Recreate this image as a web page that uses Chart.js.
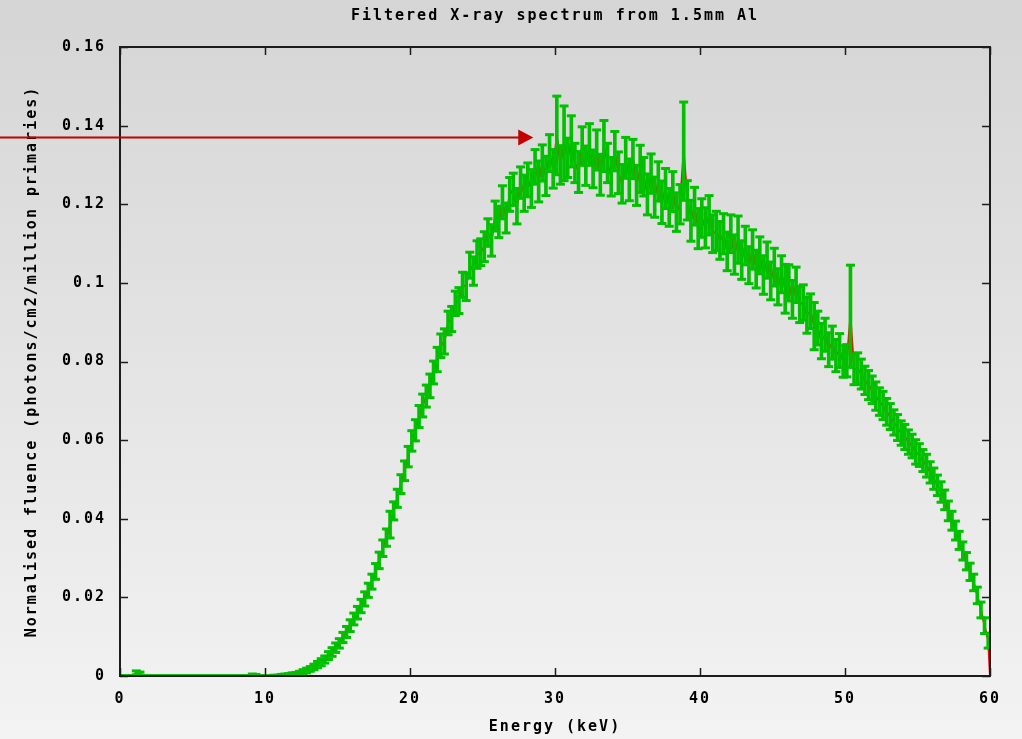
<!DOCTYPE html>
<html><head><meta charset="utf-8">
<script src="https://cdn.jsdelivr.net/npm/chart.js@4.4.1/dist/chart.umd.min.js"></script>
<style>html,body{margin:0;padding:0;background:#e4e4e4;overflow:hidden}canvas{display:block}</style>
</head><body>
<canvas id="c" width="1022" height="739"></canvas>
<script>
const titleText = 'Filtered X-ray spectrum from 1.5mm Al';
const xTitle = 'Energy (keV)';
const yTitle = 'Normalised fluence (photons/cm2/million primaries)';
const xTickLabels = ['0','10','20','30','40','50','60'];
const yTickLabels = ['0','0.02','0.04','0.06','0.08','0.1','0.12','0.14','0.16'];

// energy bins (keV): centre of first bin and bin width
const binStart = 0.125, binWidth = 0.25;

// normalised fluence per bin (4 bins per keV)
const fluence = [
 0,0,0,0,
 0.0008,0.0006,0,0,
 0,0,0,0,
 0,0,0,0,
 0,0,0,0,
 0,0,0,0,
 0,0,0,0,
 0,0,0,0,
 0,0,0,0,
 0.0003,0.0002,0,0,
 0,0,0.0001,0.0001,
 0.0002,0.0003,0.0004,0.0005,
 0.0006,0.0008,0.0011,0.0014,
 0.0018,0.0023,0.0029,0.0035,
 0.0042,0.0052,0.0061,0.0072,
 0.0083,0.0098,0.0112,0.0128,
 0.0145,0.0161,0.0178,0.0196,
 0.0218,0.0240,0.0266,0.0294,
 0.0325,0.0352,0.0385,0.0420,
 0.0452,0.0488,0.0522,0.0558,
 0.0598,0.0625,0.0660,0.0688,
 0.0712,0.0738,0.0772,0.0805,
 0.0840,0.0851,0.0898,0.0908,
 0.0948,0.0955,0.0995,0.0990,
 0.1045,0.1030,0.1072,0.1078,
 0.1092,0.1128,0.1108,0.1170,
 0.1155,0.1205,0.1165,0.1225,
 0.1238,0.1195,0.1255,0.1228,
 0.1262,0.1240,0.1295,0.1258,
 0.1305,0.1272,0.1330,0.1290,
 0.1375,0.1300,0.1355,0.1318,
 0.1360,0.1305,0.1282,0.1348,
 0.1298,0.1352,0.1290,0.1338,
 0.1275,0.1348,0.1305,0.1270,
 0.1335,0.1280,0.1252,0.1318,
 0.1262,0.1315,0.1248,0.1290,
 0.1270,0.1225,0.1278,0.1218,
 0.1258,0.1205,0.1240,0.1192,
 0.1232,0.1180,0.1200,0.1335,
 0.1210,0.1158,0.1195,0.1138,
 0.1165,0.1140,0.1172,0.1125,
 0.1132,0.1108,0.1125,0.1080,
 0.1125,0.1072,0.1110,0.1058,
 0.1095,0.1045,0.1085,0.1035,
 0.1070,0.1020,0.1058,0.1005,
 0.1040,0.0990,0.1022,0.0985,
 0.1000,0.0958,0.0995,0.0945,
 0.0950,0.0918,0.0928,0.0890,
 0.0885,0.0852,0.0868,0.0830,
 0.0848,0.0815,0.0828,0.0800,
 0.0802,0.0915,0.0780,0.0782,
 0.0768,0.0752,0.0740,0.0728,
 0.0712,0.0698,0.0688,0.0672,
 0.0660,0.0645,0.0632,0.0618,
 0.0608,0.0595,0.0585,0.0570,
 0.0562,0.0548,0.0535,0.0518,
 0.0502,0.0485,0.0468,0.0448,
 0.0420,0.0395,0.0370,0.0345,
 0.0318,0.0292,0.0265,0.0238,
 0.0205,0.0168,0.0128,0.0090
];

// half-height of each error bar
const fluenceErr = [
 0,0,0,0,
 0.0005,0.0004,0,0,
 0,0,0,0,
 0,0,0,0,
 0,0,0,0,
 0,0,0,0,
 0,0,0,0,
 0,0,0,0,
 0,0,0,0,
 0.0002,0.0002,0,0,
 0,0,0.0001,0.0001,
 0.0002,0.0002,0.0002,0.0003,
 0.0003,0.0004,0.0005,0.0006,
 0.0006,0.0007,0.0008,0.0009,
 0.0009,0.0010,0.0011,0.0012,
 0.0012,0.0013,0.0014,0.0015,
 0.0015,0.0016,0.0017,0.0018,
 0.0018,0.0019,0.0020,0.0021,
 0.0021,0.0022,0.0034,0.0023,
 0.0023,0.0024,0.0025,0.0026,
 0.0026,0.0027,0.0028,0.0029,
 0.0028,0.0030,0.0029,0.0031,
 0.0030,0.0032,0.0030,0.0032,
 0.0031,0.0033,0.0032,0.0035,
 0.0033,0.0036,0.0035,0.0034,
 0.0038,0.0035,0.0040,0.0038,
 0.0040,0.0042,0.0038,0.0043,
 0.0041,0.0045,0.0040,0.0046,
 0.0043,0.0048,0.0044,0.0052,
 0.0046,0.0050,0.0047,0.0049,
 0.0100,0.0049,0.0095,0.0050,
 0.0065,0.0050,0.0052,0.0049,
 0.0050,0.0053,0.0048,0.0051,
 0.0052,0.0065,0.0050,0.0049,
 0.0050,0.0053,0.0049,0.0052,
 0.0053,0.0050,0.0051,0.0060,
 0.0049,0.0052,0.0050,0.0051,
 0.0050,0.0054,0.0051,0.0048,
 0.0051,0.0049,0.0050,0.0125,
 0.0050,0.0052,0.0048,0.0051,
 0.0049,0.0051,0.0050,0.0048,
 0.0050,0.0048,0.0051,0.0049,
 0.0048,0.0050,0.0060,0.0049,
 0.0049,0.0047,0.0050,0.0048,
 0.0047,0.0049,0.0046,0.0048,
 0.0048,0.0046,0.0047,0.0062,
 0.0046,0.0048,0.0045,0.0046,
 0.0045,0.0046,0.0044,0.0060,
 0.0043,0.0045,0.0042,0.0043,
 0.0042,0.0041,0.0043,0.0040,
 0.0041,0.0130,0.0039,0.0040,
 0.0038,0.0036,0.0037,0.0035,
 0.0036,0.0035,0.0036,0.0034,
 0.0033,0.0032,0.0033,0.0031,
 0.0032,0.0031,0.0030,0.0031,
 0.0029,0.0028,0.0029,0.0027,
 0.0027,0.0026,0.0026,0.0025,
 0.0025,0.0024,0.0024,0.0023,
 0.0023,0.0022,0.0022,0.0021,
 0.0021,0.0020,0.0020,0.0019
];

const endPoint = {x: 60, y: 0};
const arrowY = 0.137, arrowFromX = -8.3, arrowToX = 28.5;

const FONT = "'DejaVu Sans Mono', 'Liberation Mono', monospace";
const font = {family: FONT, size: 15, weight: 'bold', lineHeight: 1.2};

const energies = fluence.map((v, i) => binStart + i * binWidth);
const linePts = fluence.map((v, i) => ({x: energies[i], y: v})).concat([endPoint]);
const barPts = fluence.map((v, i) => ({x: energies[i], y: [v - fluenceErr[i], v + fluenceErr[i]]}));
const capPts = [];
fluence.forEach((v, i) => {
  capPts.push({x: energies[i], y: v - fluenceErr[i]});
  capPts.push({x: energies[i], y: v + fluenceErr[i]});
});

const spacingPlugin = {
  id: 'spacing',
  beforeLayout(chart) { chart.ctx.letterSpacing = '2px'; },
  beforeDraw(chart) { chart.ctx.letterSpacing = '2px'; }
};

const bgPlugin = {
  id: 'bg',
  beforeDraw(chart) {
    const c = chart.ctx;
    c.save();
    const g = c.createLinearGradient(0, 0, 0, chart.height);
    g.addColorStop(0, '#d5d5d5');
    g.addColorStop(1, '#f3f3f3');
    c.fillStyle = g;
    c.fillRect(0, 0, chart.width, chart.height);
    c.restore();
  }
};

const framePlugin = {
  id: 'frame',
  afterDatasetsDraw(chart) {
    const c = chart.ctx, a = chart.chartArea;
    const xs = chart.scales.x, ys = chart.scales.y;
    c.save();
    c.strokeStyle = '#1c1c1c';
    c.lineWidth = 2;
    c.strokeRect(a.left, a.top, a.right - a.left, a.bottom - a.top);
    c.lineWidth = 1.5;
    const tl = 8;
    c.beginPath();
    xs.ticks.forEach(t => {
      const px = Math.round(xs.getPixelForValue(t.value)) + 0.5;
      c.moveTo(px, a.bottom); c.lineTo(px, a.bottom - tl);
      c.moveTo(px, a.top); c.lineTo(px, a.top + tl);
    });
    ys.ticks.forEach(t => {
      const py = Math.round(ys.getPixelForValue(t.value)) + 0.5;
      c.moveTo(a.left, py); c.lineTo(a.left + tl, py);
      c.moveTo(a.right, py); c.lineTo(a.right - tl, py);
    });
    c.stroke();
    // arrow
    const y = ys.getPixelForValue(arrowY);
    const x0 = xs.getPixelForValue(arrowFromX);
    const x1 = xs.getPixelForValue(arrowToX);
    c.strokeStyle = '#c40000';
    c.fillStyle = '#c40000';
    c.lineWidth = 2;
    c.beginPath();
    c.moveTo(x0, y); c.lineTo(x1 - 14, y);
    c.stroke();
    c.beginPath();
    c.moveTo(x1, y); c.lineTo(x1 - 15, y - 8); c.lineTo(x1 - 15, y + 8); c.closePath();
    c.fill();
    c.restore();
  }
};

new Chart(document.getElementById('c').getContext('2d'), {
  type: 'scatter',
  data: {
    datasets: [
      {type: 'line', data: linePts, borderColor: '#ff0000', borderWidth: 2, pointRadius: 0,
       showLine: true, fill: false, tension: 0, order: 3},
      {type: 'bar', data: barPts, backgroundColor: '#00c000', borderWidth: 0, barThickness: 3,
       grouped: false, order: 2},
      {type: 'scatter', data: capPts, pointStyle: 'line', pointRadius: 4.5, pointHoverRadius: 4.5,
       borderColor: '#00c000', borderWidth: 3, order: 1}
    ]
  },
  options: {
    responsive: false, animation: false, devicePixelRatio: 1,
    events: [],
    layout: {padding: {left: 0, right: 32, top: 0, bottom: 0}},
    plugins: {
      legend: {display: false}, tooltip: {enabled: false},
      title: {display: true, fullSize: false, text: titleText, color: '#000', font: font, padding: {top: 7, bottom: 22}}
    },
    scales: {
      x: {
        type: 'linear', min: 0, max: 60, offset: false,
        grid: {display: false}, border: {display: false},
        ticks: {stepSize: 10, color: '#000', font: font, padding: 6, maxRotation: 0,
                callback: v => xTickLabels[Math.round(v / 10)]},
        title: {display: true, text: xTitle, color: '#000', font: font, padding: {top: 3, bottom: 3}},
        afterFit: s => { s.height = 63; }
      },
      y: {
        type: 'linear', min: 0, max: 0.16,
        grid: {display: false}, border: {display: false},
        ticks: {stepSize: 0.02, color: '#000', font: font, padding: 6,
                callback: v => yTickLabels[Math.round(v / 0.02)]},
        title: {display: true, text: yTitle, color: '#000', font: font, padding: {top: 23, bottom: 0}},
        afterFit: s => { s.width = 120; }
      }
    }
  },
  plugins: [spacingPlugin, bgPlugin, framePlugin]
});
</script>
</body></html>
